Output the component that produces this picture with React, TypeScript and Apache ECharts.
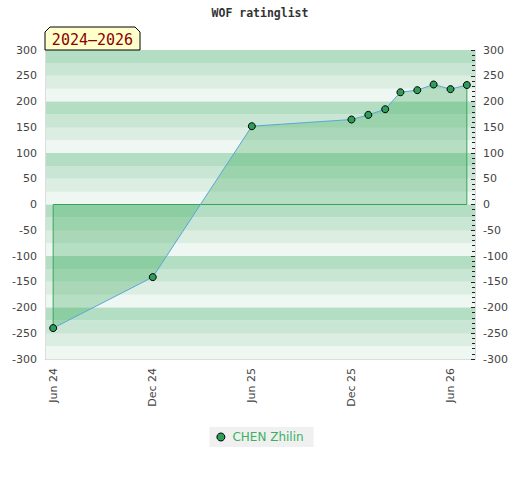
import React, { useEffect, useRef } from "react";
import * as echarts from "echarts";

const dates = [
  "2024-06-01", "2024-12-01", "2025-06-01", "2025-12-01", "2026-01-01",
  "2026-02-01", "2026-03-01", "2026-04-01", "2026-05-01", "2026-06-01", "2026-07-01",
];
const ratings = [-240, -141, 152, 165, 174, 185, 218, 222, 233, 224, 232];
const tickDates = ["2024-06-01", "2024-12-01", "2025-06-01", "2025-12-01", "2026-06-01"];
const xRange = ["2024-05-17", "2026-07-16"];
const yTicks = [-300, -250, -200, -150, -100, -50, 0, 50, 100, 150, 200, 250, 300];
const playerName = "CHEN Zhilin";
const chartTitle = "WOF ratinglist";
const periodLabel = "2024–2026";
const monthNames = ["Jan", "Feb", "Mar", "Apr", "May", "Jun", "Jul", "Aug", "Sep", "Oct", "Nov", "Dec"];

const ts = (s: string) => {
  const [y, m, d] = s.split("-").map(Number);
  return Date.UTC(y, m - 1, d);
};

export default function App() {
  const ref = useRef<HTMLDivElement>(null);
  useEffect(() => {
    if (!ref.current) return;
    const chart = echarts.init(ref.current, null, { renderer: "svg" });
    const points = dates.map((d, i) => [ts(d), ratings[i]]);
    const first = points[0];
    const last = points[points.length - 1];
    const outline = [
      [first[0], first[1]],
      [first[0], 0],
      [last[0], 0],
      [last[0], last[1]],
    ];
    const yMin = yTicks[0];
    const yMax = yTicks[yTicks.length - 1];
    const labelFont = { fontFamily: "DejaVu Sans", fontSize: 11, color: "#444" };
    chart.setOption({
      animation: false,
      backgroundColor: "#fff",
      title: {
        text: chartTitle,
        left: "center",
        top: 2,
        textStyle: { fontFamily: "DejaVu Sans Mono", fontSize: 11.5, fontWeight: "bold", color: "#333" },
      },
      grid: { left: 45, right: 45, top: 50, bottom: 121, show: false },
      legend: {
        data: [playerName],
        bottom: 33,
        left: "center",
        backgroundColor: "#f0f0f0",
        padding: [4, 10, 4, 7],
        icon: "circle",
        itemWidth: 13,
        itemHeight: 8,
        itemGap: 8,
        itemStyle: { color: "#2e9e5a", borderColor: "#000", borderWidth: 1 },
        textStyle: { fontFamily: "DejaVu Sans", fontSize: 12, color: "#3cb062" },
      },
      xAxis: {
        type: "value",
        min: ts(xRange[0]),
        max: ts(xRange[1]),
        axisLine: { show: true, onZero: false, lineStyle: { color: "#ddd" } },
        axisTick: { show: false },
        splitLine: { show: false },
        axisLabel: {
          customValues: tickDates.map(ts),
          rotate: 90,
          margin: 9,
          ...labelFont,
          formatter: (v: number) => {
            const d = new Date(v);
            return monthNames[d.getUTCMonth()] + " " + String(d.getUTCFullYear()).slice(2);
          },
        },
      },
      yAxis: [
        {
          type: "value",
          position: "left",
          min: yMin,
          max: yMax,
          interval: 50,
          axisLine: { show: true, lineStyle: { color: "#ddd" } },
          axisTick: { show: false },
          axisLabel: { ...labelFont, margin: 8 },
          splitLine: { show: true, lineStyle: { color: "#dedede", width: 1 } },
        },
        {
          type: "value",
          position: "right",
          min: yMin,
          max: yMax,
          interval: 50,
          axisLine: { show: true, lineStyle: { color: "#ddd" } },
          axisTick: { show: true, inside: true, length: 4, lineStyle: { color: "#222" } },
          minorTick: { show: true, splitNumber: 5, length: 3, lineStyle: { color: "#222" } },
          axisLabel: { ...labelFont, margin: 8 },
          splitLine: { show: false },
        },
        {
          type: "value",
          position: "left",
          min: yMin,
          max: yMax,
          interval: 25,
          axisLine: { show: false },
          axisTick: { show: false },
          axisLabel: { show: false },
          splitLine: { show: false },
          splitArea: {
            show: true,
            areaStyle: { color: ["#eff7f2", "#dcede2", "#c8e6d3", "#b3dec4"] },
          },
          z: 0,
        },
      ],
      series: [
        {
          name: "outline",
          type: "line",
          data: outline,
          symbol: "none",
          lineStyle: { color: "#3aa35c", width: 1 },
          silent: true,
          z: 2,
        },
        {
          name: playerName,
          type: "line",
          data: points,
          symbol: "circle",
          symbolSize: 7,
          itemStyle: { color: "#2e9e5a", borderColor: "#000", borderWidth: 1 },
          lineStyle: { color: "#5aa5dc", width: 1 },
          areaStyle: { color: "rgba(56,168,90,0.45)", origin: 0 },
          z: 3,
        },
      ],
      graphic: [
        {
          type: "polygon",
          shape: {
            points: [[45, 50], [45, 32], [50, 27], [135, 27], [140, 32], [140, 50]],
          },
          style: { fill: "#ffffcc", stroke: "#000", lineWidth: 1 },
          z: 10,
        },
        {
          type: "text",
          x: 92.5,
          y: 40,
          style: {
            text: periodLabel,
            fill: "#8b0000",
            font: "15px 'DejaVu Sans Mono'",
            textAlign: "center",
            textVerticalAlign: "middle",
          },
          z: 11,
        },
      ],
    });
    return () => chart.dispose();
  }, []);
  return (
    <div
      ref={ref}
      style={{ position: "fixed", left: 0, top: 0, width: 520, height: 480 }}
    />
  );
}
